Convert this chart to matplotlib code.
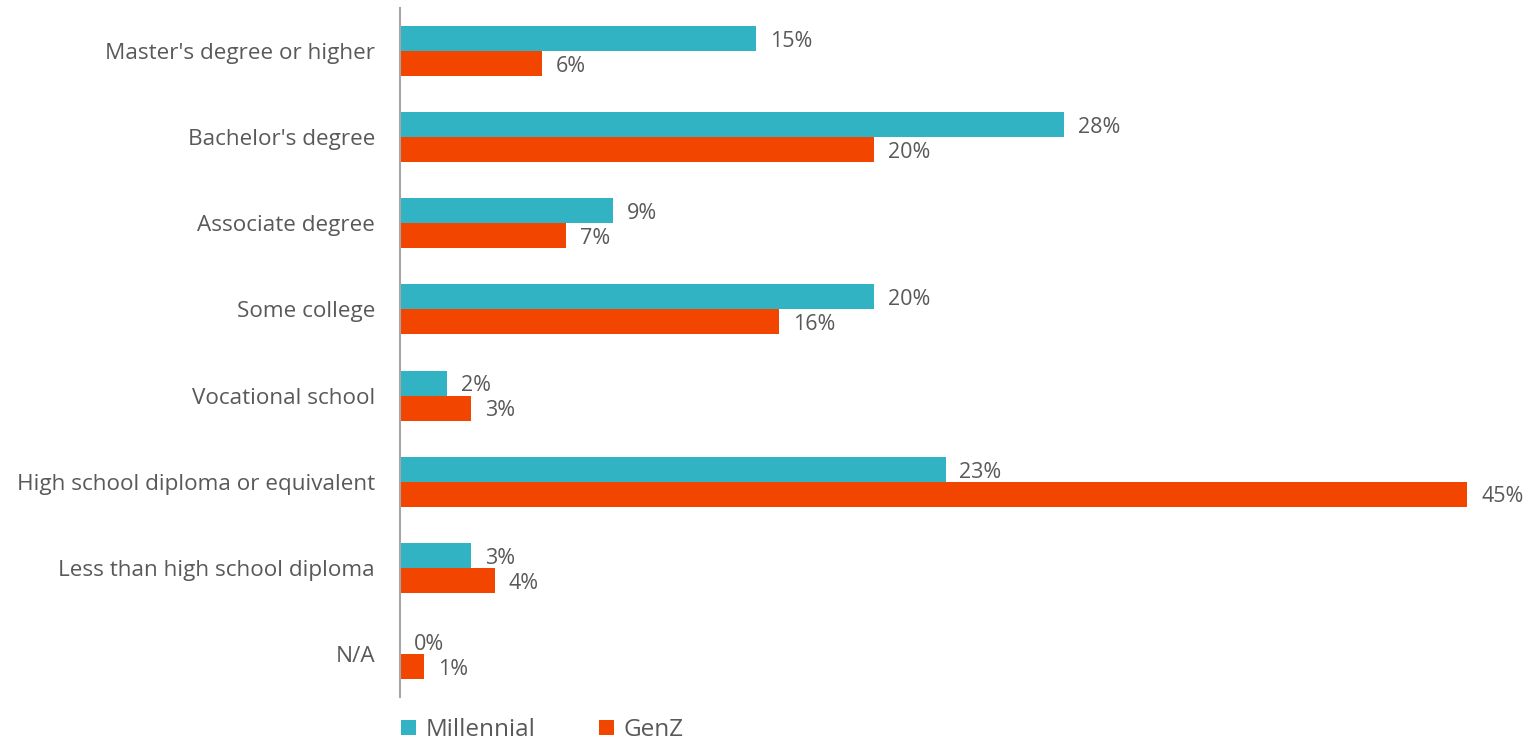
import matplotlib.pyplot as plt
import numpy as np

plt.rcParams['font.family'] = ['Open Sans', 'DejaVu Sans']

categories = ["Master's degree or higher", "Bachelor's degree", "Associate degree",
              "Some college", "Vocational school", "High school diploma or equivalent",
              "Less than high school diploma", "N/A"]
millennial = [15, 28, 9, 20, 2, 23, 3, 0]
genz = [6, 20, 7, 16, 3, 45, 4, 1]

teal = "#31b3c3"
orange = "#f24500"
text_grey = "#595959"

fig = plt.figure(figsize=(15.29, 7.42), dpi=100)
ax = fig.add_axes([0.2616, 0.0606, 0.7384, 0.9286])

y = np.arange(len(categories))
h = 0.29
b1 = ax.barh(y - h / 2, millennial, height=h, color=teal, label="Millennial")
b2 = ax.barh(y + h / 2, genz, height=h, color=orange, label="GenZ")

for bars, vals in ((b1, millennial), (b2, genz)):
    for bar, v in zip(bars, vals):
        ax.annotate(f"{v}%", (v, bar.get_y() + bar.get_height() / 2),
                    xytext=(10, -2), textcoords="offset points",
                    ha="left", va="center", fontsize=15.5, color=text_grey)

ax.set_ylim(len(categories) - 0.5, -0.5)
ax.set_xlim(0, 47.6)
ax.set_yticks(y)
ax.set_yticklabels(categories, fontsize=16.2, color=text_grey)
ax.tick_params(axis="y", length=0, pad=18)
ax.set_xticks([])
for side in ("top", "right", "bottom"):
    ax.spines[side].set_visible(False)
ax.spines["left"].set_color("#a6a6a6")
ax.spines["left"].set_linewidth(1.5)

ax.legend(loc="upper left", bbox_to_anchor=(-0.0075, -0.0165), ncol=2, frameon=False,
          fontsize=17.5, labelcolor=text_grey, handlelength=0.62, handleheight=0.62,
          handletextpad=0.4, columnspacing=2.6, borderaxespad=0)

fig.savefig("out.png", dpi=100)
